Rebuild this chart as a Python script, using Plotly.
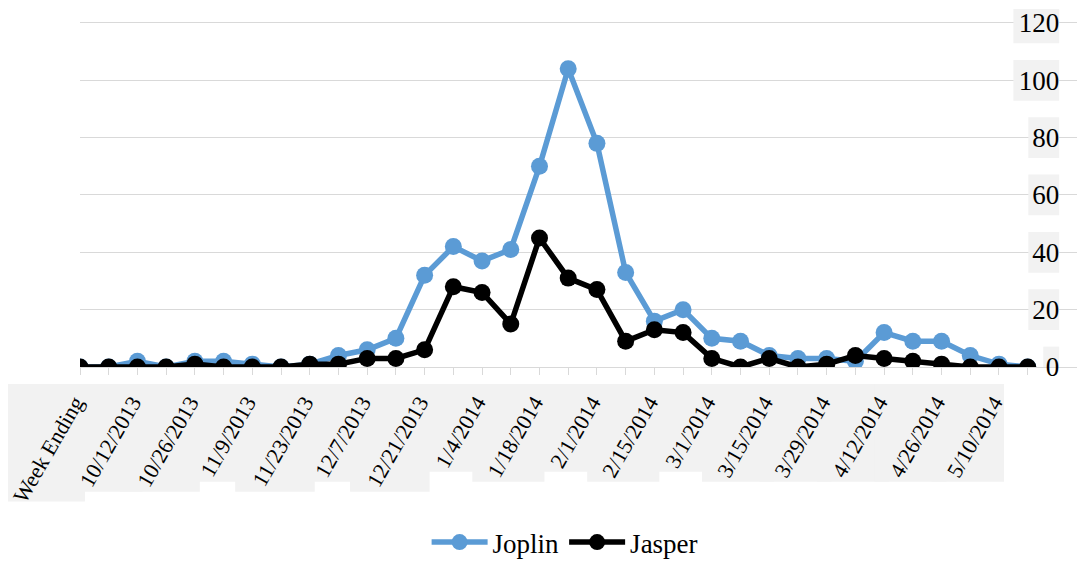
import plotly.graph_objects as go

weeks = ["Week Ending", "10/5/2013", "10/12/2013", "10/19/2013", "10/26/2013", "11/2/2013",
         "11/9/2013", "11/16/2013", "11/23/2013", "11/30/2013", "12/7/2013", "12/14/2013",
         "12/21/2013", "12/28/2013", "1/4/2014", "1/11/2014", "1/18/2014", "1/25/2014",
         "2/1/2014", "2/8/2014", "2/15/2014", "2/22/2014", "3/1/2014", "3/8/2014",
         "3/15/2014", "3/22/2014", "3/29/2014", "4/5/2014", "4/12/2014", "4/19/2014",
         "4/26/2014", "5/3/2014", "5/10/2014", "5/17/2014"]
joplin = [0, 0, 2, 0, 2, 2, 1, 0, 1, 4, 6, 10, 32, 42, 37, 41, 70, 104, 78, 33,
          16, 20, 10, 9, 4, 3, 3, 2, 12, 9, 9, 4, 1, 0]
jasper = [0, 0, 0, 0, 1, 0, 0, 0, 1, 1, 3, 3, 6, 28, 26, 15, 45, 31, 27, 9,
          13, 12, 3, 0, 3, 0, 1, 4, 3, 2, 1, 0, 0, 0]
y_ticks = [0, 20, 40, 60, 80, 100, 120]

W, H = 1085, 562
OFF = 8                      # page body margin offset
ML = 75 - OFF                # left edge of plot area (figure px)
PLOT_W = W - ML
PLOT_H = 367 - OFF           # plot bottom (figure px), top at 0
MB = H - PLOT_H
PX_X = 28.86
XMAX = PLOT_W / PX_X
PX_Y = 2.875
YMAX = PLOT_H / PX_Y

FONT = "Liberation Serif"
GRID = "#d9d9d9"
BOX = "#f2f2f2"

xs = list(range(len(weeks)))
tick_idx = xs[::2]
tick_txt = [weeks[i] for i in tick_idx]


def px_to_paper_x(ref_px):
    return (ref_px - OFF - ML) / PLOT_W


def px_to_paper_y(ref_px):
    return (PLOT_H - (ref_px - OFF)) / PLOT_H


fig = go.Figure()
fig.add_trace(go.Scatter(x=xs, y=joplin, name="Joplin", mode="lines+markers",
                         line=dict(color="#5B9BD5", width=5.5),
                         marker=dict(color="#5B9BD5", size=17)))
fig.add_trace(go.Scatter(x=xs, y=jasper, name="Jasper", mode="lines+markers",
                         line=dict(color="#000000", width=5.5),
                         marker=dict(color="#000000", size=17)))

shapes = []
# gray label backgrounds behind x tick labels
for i, t in zip(tick_idx, tick_txt):
    h = 10 * len(t) + 8
    w = 0.74 * h
    right_px = 75 + i * PX_X + 5
    left_px = right_px - w
    top_px = 384
    bot_px = top_px + h
    shapes.append(dict(type="rect", xref="paper", yref="paper", layer="below",
                       x0=px_to_paper_x(left_px), x1=px_to_paper_x(right_px),
                       y0=px_to_paper_y(bot_px), y1=px_to_paper_y(top_px),
                       fillcolor=BOX, line=dict(width=0)))
# gray label backgrounds behind y tick labels
for v in y_ticks:
    wpx = 15 * len(str(v)) + 1
    x1 = (1059 - 75) / PX_X
    x0 = x1 - wpx / PX_X
    shapes.append(dict(type="rect", xref="x", yref="y", layer="between",
                       x0=x0, x1=x1, y0=v - 7.1, y1=v + 7.1,
                       fillcolor=BOX, line=dict(width=0)))

fig.update_layout(
    width=W, height=H,
    margin=dict(l=ML, r=0, t=0, b=MB),
    paper_bgcolor="white", plot_bgcolor="white",
    font=dict(family=FONT, color="black"),
    shapes=shapes,
    showlegend=True,
    legend=dict(orientation="h", x=px_to_paper_x(562), xanchor="center",
                y=px_to_paper_y(543), yanchor="middle", itemwidth=56,
                font=dict(family=FONT, size=27, color="black"),
                bgcolor="rgba(0,0,0,0)"),
    xaxis=dict(range=[0, XMAX], tickmode="array", tickvals=tick_idx, ticktext=tick_txt,
               tickangle=-60, tickfont=dict(family=FONT, size=22, color="black"),
               ticklabelshift=-5, ticklabelstandoff=6, ticklabeloverflow="allow",
               ticks="outside", ticklen=7, tickcolor=GRID, tickwidth=1,
               minor=dict(ticks="outside", ticklen=7, tickcolor=GRID, tickwidth=1,
                          tickmode="linear", tick0=0, dtick=1, showgrid=False),
               showgrid=False, zeroline=False, showline=True, linecolor=GRID, linewidth=1),
    yaxis=dict(range=[0, YMAX], tickmode="array", tickvals=y_ticks,
               ticktext=[str(v) for v in y_ticks], ticklabeloverflow="allow",
               anchor="free", position=px_to_paper_x(1059), side="left",
               tickfont=dict(family=FONT, size=27, color="black"),
               ticks="", showline=False, zeroline=False,
               showgrid=True, gridcolor=GRID, gridwidth=1),
)

fig.write_html("out.html")
